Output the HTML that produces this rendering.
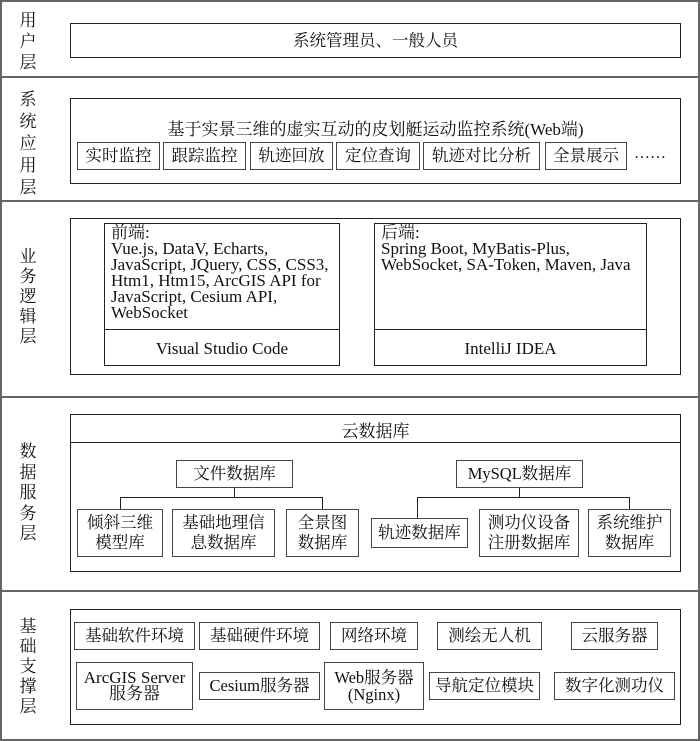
<!DOCTYPE html>
<html><head><meta charset="utf-8"><style>
body{margin:0;width:700px;height:741px;background:#fff;position:relative;overflow:hidden;font-family:"Liberation Serif","Noto Serif CJK SC",serif;color:#111;}
div{position:absolute;box-sizing:border-box;}
.b{border:1px solid #222;display:flex;align-items:center;justify-content:center;text-align:center;font-size:16.5px;line-height:18px;white-space:nowrap;}
.s{border:1.5px solid #444;}
.row{left:0;width:700px;border:2px solid #666;}
.lab{left:17px;width:22px;font-size:17px;line-height:21px;text-align:center;}
.ln{background:#222;}
</style></head><body>
<div class="row" style="top:0;height:78px"></div>
<div class="row" style="top:76px;height:126px"></div>
<div class="row" style="top:200px;height:198px"></div>
<div class="row" style="top:396px;height:196px"></div>
<div class="row" style="top:590px;height:151px"></div>

<div class="lab" style="top:10px">用<br>户<br>层</div>
<div class="lab" style="top:89px;line-height:22px">系<br>统<br>应<br>用<br>层</div>
<div class="lab" style="top:247px;line-height:20px">业<br>务<br>逻<br>辑<br>层</div>
<div class="lab" style="top:442px;line-height:20.5px">数<br>据<br>服<br>务<br>层</div>
<div class="lab" style="top:617px;line-height:20px">基<br>础<br>支<br>撑<br>层</div>

<div class="b" style="left:70px;top:23px;width:611px;height:35px">系统管理员、一般人员</div>

<div class="b" style="left:70px;top:98px;width:611px;height:86px"></div>
<div style="left:70px;top:115px;width:611px;text-align:center;font-size:17px;white-space:nowrap">基于实景三维的虚实互动的皮划艇运动监控系统(Web端)</div>
<div class="b s" style="left:77px;top:142px;width:83px;height:28px">实时监控</div>
<div class="b s" style="left:163px;top:142px;width:83px;height:28px">跟踪监控</div>
<div class="b s" style="left:250px;top:142px;width:83px;height:28px">轨迹回放</div>
<div class="b s" style="left:336px;top:142px;width:84px;height:28px">定位查询</div>
<div class="b s" style="left:423px;top:142px;width:117px;height:28px">轨迹对比分析</div>
<div class="b s" style="left:545px;top:142px;width:82px;height:28px">全景展示</div>
<div style="left:634px;top:145px;font-size:16px">……</div>

<div class="b" style="left:70px;top:218px;width:611px;height:157px"></div>
<div style="left:104px;top:223px;width:236px;height:143px;border:1px solid #222"></div>
<div class="ln" style="left:104px;top:329px;width:236px;height:1px"></div>
<div style="left:111px;top:225px;font-size:17px;line-height:16px;width:240px;white-space:nowrap">前端:<br>Vue.js, DataV, Echarts,<br>JavaScript, JQuery, CSS, CSS3,<br>Htm1, Htm15, ArcGIS API for<br>JavaScript, Cesium API,<br>WebSocket</div>
<div style="left:104px;top:339px;width:236px;text-align:center;font-size:17px">Visual Studio Code</div>
<div style="left:374px;top:223px;width:273px;height:143px;border:1px solid #222"></div>
<div class="ln" style="left:374px;top:329px;width:273px;height:1px"></div>
<div style="left:381px;top:225px;font-size:17px;line-height:16px;width:270px;white-space:nowrap">后端:<br>Spring Boot, MyBatis-Plus,<br>WebSocket, SA-Token, Maven, Java</div>
<div style="left:374px;top:339px;width:273px;text-align:center;font-size:17px">IntelliJ IDEA</div>

<div class="b" style="left:70px;top:414px;width:611px;height:158px"></div>
<div class="ln" style="left:70px;top:442px;width:611px;height:1px"></div>
<div style="left:70px;top:417px;width:611px;text-align:center;font-size:17px">云数据库</div>
<div class="b s" style="left:176px;top:460px;width:117px;height:28px">文件数据库</div>
<div class="b s" style="left:456px;top:460px;width:127px;height:28px">MySQL数据库</div>
<div class="ln" style="left:234px;top:488px;width:1px;height:9px"></div>
<div class="ln" style="left:120px;top:497px;width:203px;height:1px"></div>
<div class="ln" style="left:120px;top:497px;width:1px;height:12px"></div>
<div class="ln" style="left:322px;top:497px;width:1px;height:12px"></div>
<div class="ln" style="left:519px;top:488px;width:1px;height:9px"></div>
<div class="ln" style="left:417px;top:497px;width:213px;height:1px"></div>
<div class="ln" style="left:417px;top:497px;width:1px;height:21px"></div>
<div class="ln" style="left:629px;top:497px;width:1px;height:12px"></div>
<div class="b s" style="left:77px;top:509px;width:86px;height:48px;line-height:20px">倾斜三维<br>模型库</div>
<div class="b s" style="left:172px;top:509px;width:103px;height:48px;line-height:20px">基础地理信<br>息数据库</div>
<div class="b s" style="left:286px;top:509px;width:73px;height:48px;line-height:20px">全景图<br>数据库</div>
<div class="b s" style="left:371px;top:518px;width:97px;height:30px">轨迹数据库</div>
<div class="b s" style="left:479px;top:509px;width:100px;height:48px;line-height:20px">测功仪设备<br>注册数据库</div>
<div class="b s" style="left:588px;top:509px;width:83px;height:48px;line-height:20px">系统维护<br>数据库</div>

<div class="b" style="left:70px;top:609px;width:611px;height:116px"></div>
<div class="b s" style="left:74px;top:622px;width:121px;height:28px">基础软件环境</div>
<div class="b s" style="left:199px;top:622px;width:121px;height:28px">基础硬件环境</div>
<div class="b s" style="left:330px;top:622px;width:88px;height:28px">网络环境</div>
<div class="b s" style="left:437px;top:622px;width:105px;height:28px">测绘无人机</div>
<div class="b s" style="left:571px;top:622px;width:87px;height:28px">云服务器</div>
<div class="b s" style="left:76px;top:662px;width:117px;height:48px;line-height:16px;font-size:17px">ArcGIS Server<br>服务器</div>
<div class="b s" style="left:199px;top:672px;width:121px;height:28px">Cesium服务器</div>
<div class="b s" style="left:324px;top:662px;width:100px;height:48px;line-height:17px">Web服务器<br>(Nginx)</div>
<div class="b s" style="left:429px;top:672px;width:111px;height:28px">导航定位模块</div>
<div class="b s" style="left:554px;top:672px;width:121px;height:28px">数字化测功仪</div>
</body></html>
